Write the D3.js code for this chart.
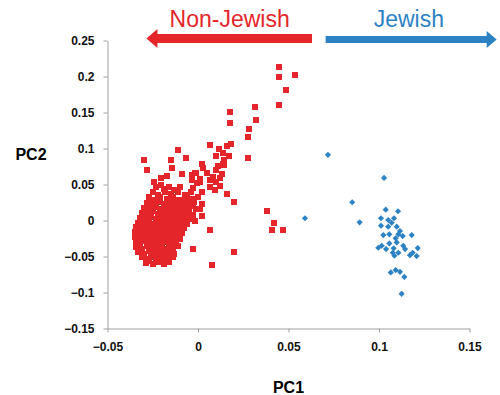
<!DOCTYPE html>
<html lang="en">
<head>
<meta charset="utf-8">
<title>PCA</title>
<script src="https://cdn.jsdelivr.net/npm/d3@7"></script>
<style>
  body { margin: 0; background: #fff; }
  svg { display: block; font-family: Arial, "Liberation Sans", Helvetica, sans-serif; }
  .tick text { font-size: 12px; font-weight: bold; fill: #111; }
  .axis path, .axis line { stroke: #a0a0a0; }
</style>
</head>
<body>
<script>
var xTicks = [-0.05, 0, 0.05, 0.1, 0.15];
var yTicks = [-0.15, -0.1, -0.05, 0, 0.05, 0.1, 0.15, 0.2, 0.25];
var xLabel = "PC1";
var yLabel = "PC2";
var groupLabels = ["Non-Jewish", "Jewish"];

// Non-Jewish samples [PC1, PC2]
var nonJewish = [
  // dense core
  [-0.023,0.046],[-0.019,0.044],[-0.016,0.047],[-0.013,0.043],[-0.010,0.046],
  [-0.025,0.039],[-0.022,0.036],[-0.018,0.040],[-0.015,0.037],[-0.011,0.039],[-0.007,0.036],[-0.004,0.040],
  [-0.027,0.032],[-0.024,0.029],[-0.021,0.033],[-0.017,0.030],[-0.014,0.032],[-0.010,0.029],[-0.006,0.032],[-0.003,0.030],[0.000,0.033],
  [-0.028,0.025],[-0.025,0.022],[-0.022,0.026],[-0.019,0.023],[-0.016,0.025],[-0.012,0.022],[-0.009,0.025],[-0.006,0.023],[-0.002,0.026],[0.002,0.023],
  [-0.030,0.018],[-0.027,0.015],[-0.024,0.019],[-0.021,0.016],[-0.018,0.018],[-0.015,0.015],[-0.012,0.018],[-0.008,0.016],[-0.005,0.019],[-0.001,0.016],
  [-0.031,0.011],[-0.028,0.008],[-0.026,0.012],[-0.022,0.009],[-0.019,0.011],[-0.016,0.008],[-0.013,0.011],[-0.010,0.009],[-0.007,0.012],[-0.003,0.008],
  [-0.032,0.004],[-0.029,0.001],[-0.026,0.005],[-0.023,0.002],[-0.020,0.004],[-0.017,0.001],[-0.014,0.004],[-0.011,0.002],[-0.008,0.005],[-0.005,0.002],
  [-0.033,-0.003],[-0.031,-0.006],[-0.028,-0.002],[-0.025,-0.005],[-0.022,-0.003],[-0.019,-0.006],[-0.016,-0.003],[-0.013,-0.005],[-0.010,-0.002],[-0.006,-0.005],
  [-0.034,-0.009],[-0.032,-0.012],[-0.029,-0.008],[-0.026,-0.011],[-0.023,-0.009],[-0.020,-0.012],[-0.017,-0.009],[-0.014,-0.011],[-0.011,-0.008],[-0.008,-0.011],
  [-0.035,-0.016],[-0.032,-0.019],[-0.030,-0.015],[-0.027,-0.018],[-0.024,-0.016],[-0.021,-0.019],[-0.018,-0.016],[-0.015,-0.018],[-0.012,-0.015],[-0.009,-0.018],
  [-0.035,-0.023],[-0.033,-0.026],[-0.030,-0.022],[-0.027,-0.025],[-0.024,-0.023],[-0.021,-0.026],[-0.018,-0.023],[-0.015,-0.025],[-0.012,-0.022],[-0.010,-0.025],
  [-0.034,-0.030],[-0.032,-0.033],[-0.029,-0.029],[-0.026,-0.032],[-0.023,-0.030],[-0.020,-0.033],[-0.017,-0.030],[-0.014,-0.032],[-0.012,-0.029],
  [-0.034,-0.037],[-0.031,-0.040],[-0.028,-0.036],[-0.025,-0.039],[-0.022,-0.037],[-0.019,-0.040],[-0.016,-0.037],[-0.014,-0.039],[-0.011,-0.036],
  [-0.033,-0.044],[-0.030,-0.047],[-0.027,-0.043],[-0.024,-0.046],[-0.021,-0.044],[-0.018,-0.047],[-0.016,-0.044],[-0.013,-0.046],
  [-0.031,-0.051],[-0.028,-0.054],[-0.025,-0.050],[-0.022,-0.053],[-0.020,-0.051],[-0.017,-0.054],[-0.014,-0.050],
  [-0.029,-0.059],[-0.025,-0.061],[-0.022,-0.058],[-0.019,-0.061],[-0.016,-0.058],
  // core infill
  [-0.025,0.028],[-0.021,0.028],[-0.017,0.028],[-0.013,0.028],[-0.009,0.028],[-0.005,0.028],
  [-0.027,0.020],[-0.023,0.020],[-0.019,0.020],[-0.015,0.020],[-0.011,0.020],[-0.007,0.020],[-0.003,0.020],
  [-0.029,0.013],[-0.025,0.013],[-0.021,0.013],[-0.017,0.013],[-0.013,0.013],[-0.009,0.013],[-0.005,0.013],
  [-0.030,0.006],[-0.026,0.006],[-0.022,0.006],[-0.018,0.006],[-0.014,0.006],[-0.010,0.006],[-0.006,0.006],
  [-0.031,-0.001],[-0.027,-0.001],[-0.023,-0.001],[-0.019,-0.001],[-0.015,-0.001],[-0.011,-0.001],[-0.008,-0.001],
  [-0.032,-0.007],[-0.028,-0.007],[-0.024,-0.007],[-0.020,-0.007],[-0.016,-0.007],[-0.012,-0.007],[-0.009,-0.007],
  [-0.033,-0.014],[-0.029,-0.014],[-0.025,-0.014],[-0.021,-0.014],[-0.017,-0.014],[-0.013,-0.014],[-0.010,-0.014],
  [-0.033,-0.021],[-0.029,-0.021],[-0.025,-0.021],[-0.021,-0.021],[-0.017,-0.021],[-0.013,-0.021],
  [-0.032,-0.028],[-0.028,-0.028],[-0.024,-0.028],[-0.020,-0.028],[-0.016,-0.028],[-0.013,-0.028],
  [-0.032,-0.035],[-0.028,-0.035],[-0.024,-0.035],[-0.020,-0.035],[-0.016,-0.035],[-0.012,-0.035],
  [-0.031,-0.042],[-0.027,-0.042],[-0.023,-0.042],[-0.019,-0.042],[-0.015,-0.042],
  [-0.030,-0.049],[-0.026,-0.049],[-0.022,-0.049],[-0.018,-0.049],[-0.015,-0.049],
  [-0.027,-0.056],[-0.023,-0.056],[-0.019,-0.056],
  // arm and outliers
  [0.0448,0.2134],[0.0449,0.1999],[0.0534,0.2017],[0.0485,0.1813],[0.0448,0.1604],
  [0.0313,0.1571],[0.0175,0.1507],[0.0320,0.1390],[0.0175,0.1354],[0.0280,0.1270],
  [0.0275,0.1153],[0.0068,0.1042],[0.0159,0.1038],[0.0181,0.1056],[0.0114,0.0996],
  [-0.0109,0.0978],[0.0275,0.0875],[0.0173,0.0889],[0.0099,0.0898],[0.0136,0.0940],
  [-0.0151,0.0838],[-0.0297,0.0838],[-0.0068,0.0875],[-0.0280,0.0699],[-0.0144,0.0727],
  [0.0024,0.0791],[0.0144,0.0773],[0.0112,0.0759],[-0.0090,0.0648],[-0.0035,0.0630],
  [-0.0009,0.0666],[-0.0203,0.0592],[-0.0170,0.0620],[-0.0243,0.0536],[-0.0206,0.0499],
  [0.0048,0.0657],[0.0029,0.0727],[0.0099,0.0703],[0.0085,0.0610],[0.0131,0.0643],
  [0.0011,0.0536],[0.0066,0.0462],[0.0094,0.0425],[0.0122,0.0480],[0.0160,0.0373],
  [0.0197,0.0258],[0.0380,0.0136],[0.0422,-0.0031],[0.0407,-0.0132],[0.0471,-0.0136],
  [0.0068,-0.0132],[0.0024,0.0058],[-0.0017,0.0],[0.0009,0.0156],[-0.0029,-0.0401],
  [0.0197,-0.0435],[0.0076,-0.0620],
  [0.0140,0.0787],[0.0145,0.0843],[-0.0017,0.0657],[0.0122,0.0596],[0.0066,0.0564],
  [0.0011,0.0574],[-0.0035,0.0564],[0.0099,0.0540],[-0.0007,0.0518],[-0.0026,0.0448],
  [0.0020,0.0401],[-0.0066,0.0355],[-0.0083,0.0286],[-0.0044,0.0216]
];

// Jewish samples [PC1, PC2]
var jewish = [
  [0.0718,0.0912],[0.1028,0.0592],[0.0852,0.0253],[0.0591,0.0031],[0.0893,-0.0025],
  [0.1037,0.0150],[0.1105,0.0128],[0.1011,0.0031],[0.1051,0.0007],[0.1083,0.0031],
  [0.1070,-0.0031],[0.1011,-0.0072],[0.1051,-0.0086],[0.1098,-0.0086],[0.1116,-0.0146],
  [0.1107,-0.0192],[0.1131,-0.0216],[0.1181,-0.0202],[0.1024,-0.0202],[0.1057,-0.0192],
  [0.1092,-0.0248],[0.1098,-0.0304],[0.1057,-0.0318],[0.0996,-0.0379],[0.1015,-0.0351],
  [0.1039,-0.0397],[0.1081,-0.0387],[0.1076,-0.0448],[0.1085,-0.0490],[0.1107,-0.0448],
  [0.1134,-0.0351],[0.1144,-0.0397],[0.1171,-0.0481],[0.1186,-0.0448],[0.1208,-0.0494],
  [0.1214,-0.0383],[0.1065,-0.0721],[0.1092,-0.0689],[0.1116,-0.0713],[0.1140,-0.0783],
  [0.1125,-0.1019]
];

var w = 500, h = 395;
var red = "#e4262b", blue = "#2d82c4";

var x = d3.scaleLinear().domain([-0.05, 0.15]).range([107.5, 469.5]);
var y = d3.scaleLinear().domain([-0.15, 0.25]).range([328.5, 40.5]);

var svg = d3.select("body").append("svg")
  .attr("width", w)
  .attr("height", h);

// axes
svg.append("g")
  .attr("class", "axis")
  .attr("transform", "translate(0," + y(-0.15) + ")")
  .call(d3.axisBottom(x).tickValues(xTicks).tickSize(4).tickSizeOuter(0)
    .tickFormat(function(d) { return d3.format("")(+d.toFixed(2)); }))
  .call(function(g) { g.selectAll("text").attr("dy", "1.25em"); });

svg.append("g")
  .attr("class", "axis")
  .attr("transform", "translate(" + x(-0.05) + ",0)")
  .call(d3.axisLeft(y).tickValues(yTicks).tickSize(4).tickSizeOuter(0)
    .tickFormat(function(d) { return d3.format("")(+d.toFixed(2)); }))
  .call(function(g) { g.selectAll("text").attr("x", -13); });

// red squares
svg.append("g")
  .attr("shape-rendering", "crispEdges")
  .selectAll("rect")
  .data(nonJewish)
  .enter().append("rect")
  .attr("x", function(d) { return Math.round(x(d[0]) - 3); })
  .attr("y", function(d) { return Math.round(y(d[1]) - 3); })
  .attr("width", 6)
  .attr("height", 6)
  .attr("fill", red);

// blue diamonds
var diamond = d3.symbol().type(d3.symbolSquare).size(19);
svg.append("g").selectAll("path")
  .data(jewish)
  .enter().append("path")
  .attr("d", diamond)
  .attr("transform", function(d) { return "translate(" + x(d[0]) + "," + y(d[1]) + ") rotate(45)"; })
  .attr("fill", blue);

// axis titles
svg.append("text")
  .attr("x", x(0.05))
  .attr("y", 393)
  .attr("text-anchor", "middle")
  .style("font-size", "16px")
  .style("font-weight", "bold")
  .text(xLabel);

svg.append("text")
  .attr("x", 31)
  .attr("y", 160)
  .attr("text-anchor", "middle")
  .style("font-size", "16px")
  .style("font-weight", "bold")
  .text(yLabel);

// direction arrows
function arrow(x0, x1, yc, half, headHalf, headLen, color) {
  var dir = x1 > x0 ? 1 : -1;
  var xb = x1 - dir * headLen;
  var pts = [[x0, yc - half], [xb, yc - half], [xb, yc - headHalf], [x1, yc],
             [xb, yc + headHalf], [xb, yc + half], [x0, yc + half]];
  svg.append("path")
    .attr("d", "M" + pts.join("L") + "Z")
    .attr("fill", color);
}
arrow(x(0.063), x(-0.0285), 38.5, 4.5, 9.5, 11, red);
arrow(x(0.0705), x(0.165), 39.5, 3.5, 8.5, 10, blue);

svg.append("text")
  .attr("x", x(0.0175))
  .attr("y", 27)
  .attr("text-anchor", "middle")
  .attr("fill", red)
  .style("font-size", "23px")
  .text(groupLabels[0]);

svg.append("text")
  .attr("x", x(0.1165))
  .attr("y", 27)
  .attr("text-anchor", "middle")
  .attr("fill", blue)
  .style("font-size", "23px")
  .text(groupLabels[1]);
</script>
</body>
</html>
